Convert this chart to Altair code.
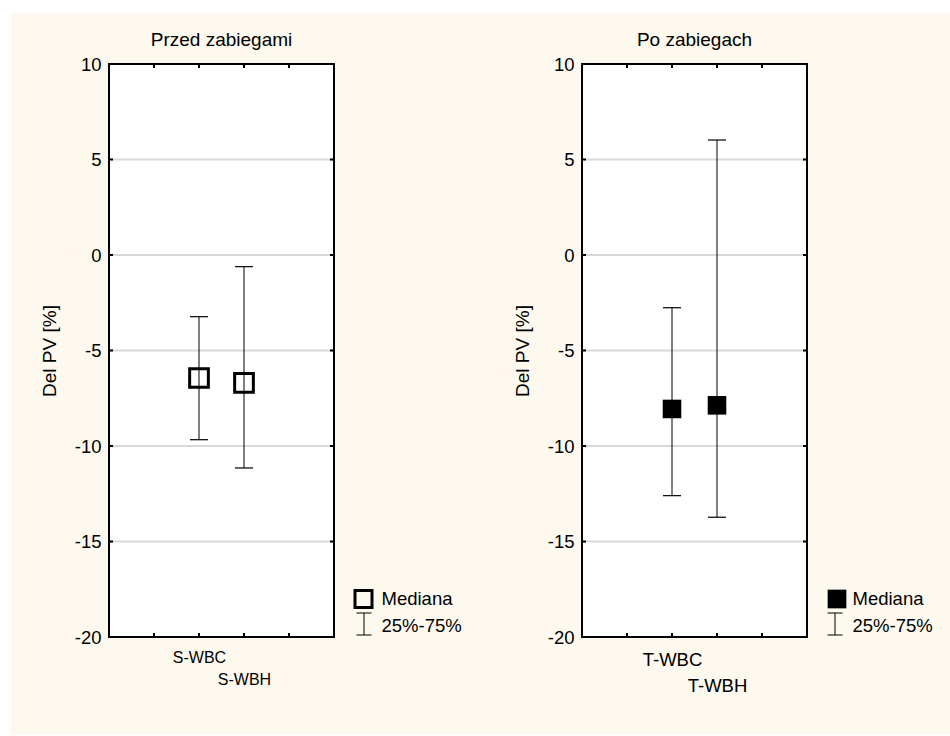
import altair as alt
import pandas as pd

# ---------------- data ----------------
pre_categories = ["S-WBC", "S-WBH"]
pre_median = [-6.44, -6.70]
pre_q25 = [-9.67, -11.15]
pre_q75 = [-3.23, -0.61]

post_categories = ["T-WBC", "T-WBH"]
post_median = [-8.06, -7.87]
post_q25 = [-12.60, -13.73]
post_q75 = [-2.76, 6.02]

panel_titles = ["Przed zabiegami", "Po zabiegach"]
y_title = "Del PV [%]"
legend_labels = ["Mediana", "25%-75%"]
y_ticks = [-20, -15, -10, -5, 0, 5, 10]
grid_values = [-15, -10, -5, 0, 5]
x_tick_positions = [1, 2, 3, 4]
x_domain = [0, 5]
y_domain = [-20, 10]

# ---------------- styling ----------------
W, H = 225, 573
FONT = "Liberation Sans"
CREAM = "#fdf9ee"
GRID = "#d9d9d9"


def panel(cats, med, q25, q75, title, filled, xlab_size, xlab_pad, xlab_lh,
          sq_x, ib_x, txt_x, cream):
    df = pd.DataFrame({
        "cat": cats,
        "pos": [i + 2 for i in range(len(cats))],
        "median": med,
        "q25": q25,
        "q75": q75,
    })
    one = pd.DataFrame({"k": [0]})
    grid_df = pd.DataFrame({"v": grid_values})
    xt_df = pd.DataFrame({"p": x_tick_positions})

    label_expr = f"datum.value == 2 ? '{cats[0]}' : ['', '{cats[1]}']"
    xscale = alt.Scale(domain=x_domain, nice=False, zero=False)
    yscale = alt.Scale(domain=y_domain, nice=False, zero=False)
    xaxis = alt.Axis(values=[2, 3], labelExpr=label_expr, title=None, domain=False,
                     ticks=False, grid=False, labelFontSize=xlab_size,
                     labelPadding=xlab_pad, labelLineHeight=xlab_lh,
                     labelBaseline="top", labelOverlap=False, labelFlush=False,
                     labelColor="black", labelFont=FONT, zindex=1)
    yaxis = alt.Axis(values=y_ticks, title=y_title, titleX=-60, titleY=H / 2,
                     titleAngle=270, titleAlign="center", titleBaseline="middle",
                     titleFontSize=19, titleFontWeight="normal", titleColor="black",
                     titleFont=FONT, labelFontSize=18.5, labelPadding=8,
                     labelExpr="'' + datum.value",
                     labelColor="black", labelFont=FONT, domain=False, ticks=False,
                     grid=False, labelOverlap=False, labelFlush=False, zindex=1)

    def X(f):
        return alt.X(f, type="quantitative", scale=xscale, axis=xaxis)

    def Y(f):
        return alt.Y(f, type="quantitative", scale=yscale, axis=yaxis)

    layers = []
    if cream:
        layers.append(alt.Chart(one).mark_rect(color=CREAM, strokeWidth=0).encode(
            x=alt.value(-99), x2=alt.value(841), y=alt.value(-51), y2=alt.value(671)))
    layers.append(alt.Chart(one).mark_rect(color="white", strokeWidth=0).encode(
        x=alt.value(0), x2=alt.value(W), y=alt.value(0), y2=alt.value(H)))
    # grid lines
    layers.append(alt.Chart(grid_df).mark_rule(color=GRID, strokeWidth=2).encode(
        y=Y("v"), x=alt.value(0), x2=alt.value(W)))
    # inward ticks
    layers.append(alt.Chart(grid_df).mark_rule(color="black", strokeWidth=2).encode(
        y=Y("v"), x=alt.value(0), x2=alt.value(4)))
    layers.append(alt.Chart(grid_df).mark_rule(color="black", strokeWidth=2).encode(
        y=Y("v"), x=alt.value(W - 4), x2=alt.value(W)))
    layers.append(alt.Chart(xt_df).mark_rule(color="black", strokeWidth=2).encode(
        x=X("p"), y=alt.value(0), y2=alt.value(4)))
    layers.append(alt.Chart(xt_df).mark_rule(color="black", strokeWidth=2).encode(
        x=X("p"), y=alt.value(H - 4), y2=alt.value(H)))
    # whiskers
    layers.append(alt.Chart(df).mark_rule(color="black", strokeWidth=1).encode(
        x=X("pos"), y=Y("q25"), y2=alt.Y2("q75")))
    layers.append(alt.Chart(df).mark_rule(color="black", strokeWidth=1.2, xOffset=-9, x2Offset=9).encode(
        x=X("pos"), x2=alt.X2("pos"), y=Y("q25")))
    layers.append(alt.Chart(df).mark_rule(color="black", strokeWidth=1.2, xOffset=-9, x2Offset=9).encode(
        x=X("pos"), x2=alt.X2("pos"), y=Y("q75")))
    # medians
    if filled:
        pt = alt.Chart(df).mark_point(shape="square", size=345, filled=True,
                                      color="black", opacity=1)
    else:
        pt = alt.Chart(df).mark_point(shape="square", size=350, filled=False,
                                      stroke="black", strokeWidth=3, opacity=1)
    layers.append(pt.encode(x=X("pos"), y=Y("median")))
    # border
    layers.append(alt.Chart(one).mark_rect(fillOpacity=0, stroke="black", strokeWidth=2).encode(
        x=alt.value(0), x2=alt.value(W), y=alt.value(0), y2=alt.value(H)))
    # panel title
    layers.append(alt.Chart(one).mark_text(align="center", baseline="alphabetic",
                                           fontSize=19, font=FONT, color="black").encode(
        x=alt.value(W / 2), y=alt.value(-18), text=alt.value(title)))
    # legend
    if filled:
        lp = alt.Chart(one).mark_point(shape="square", size=350, filled=True,
                                       color="black", opacity=1)
    else:
        lp = alt.Chart(one).mark_point(shape="square", size=289, filled=False,
                                       stroke="black", strokeWidth=3, opacity=1)
    layers.append(lp.encode(x=alt.value(sq_x), y=alt.value(535)))
    layers.append(alt.Chart(one).mark_rule(color="black", strokeWidth=1).encode(
        x=alt.value(ib_x), y=alt.value(549), y2=alt.value(571)))
    for yy in (549, 571):
        layers.append(alt.Chart(one).mark_rule(color="black", strokeWidth=1).encode(
            x=alt.value(ib_x - 7.5), x2=alt.value(ib_x + 7.5), y=alt.value(yy)))
    for lab, yy in zip(legend_labels, (541, 567.7)):
        layers.append(alt.Chart(one).mark_text(align="left", baseline="alphabetic",
                                               fontSize=18.5, font=FONT, color="black").encode(
            x=alt.value(txt_x), y=alt.value(yy), text=alt.value(lab)))

    return alt.layer(*layers).properties(width=W, height=H)


left = panel(pre_categories, pre_median, pre_q25, pre_q75, panel_titles[0], False,
             16, 12.5, 22, 254.5, 255, 272.5, True)
right = panel(post_categories, post_median, post_q25, post_q75, panel_titles[1], True,
              18.5, 13.5, 25.5, 255, 253, 270.5, False)

chart = alt.hconcat(left, right, spacing=248, bounds="flush").properties(
    padding={"left": 10, "top": 13, "right": 0, "bottom": 0},
    background="white",
).configure(font=FONT).configure_view(strokeWidth=0)

chart.save("out.html", embed_options={"renderer": "svg", "actions": False})
